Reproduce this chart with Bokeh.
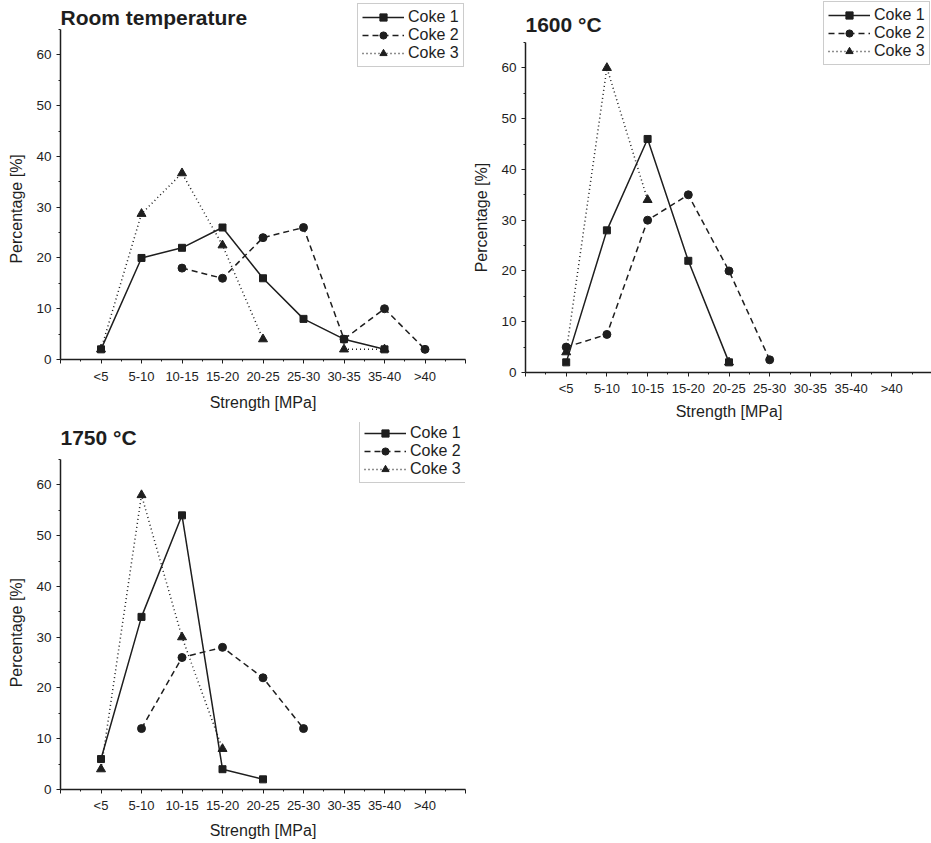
import math
from bokeh.plotting import figure
from bokeh.models import (Range1d, FixedTicker, Legend, LegendItem, Label)
from bokeh.layouts import column, row
from bokeh.embed import file_html
from bokeh.resources import INLINE

NaN = float("nan")

categories = ["<5", "5-10", "10-15", "15-20", "20-25", "25-30", "30-35", "35-40", ">40"]
series_names = ["Coke 1", "Coke 2", "Coke 3"]

# Room temperature
rt_coke1 = [2, 20, 22, 26, 16, 8, 4, 2, NaN]
rt_coke2 = [NaN, NaN, 18, 16, 24, 26, 4, 10, 2]
rt_coke3 = [2, 28.7, 36.7, 22.5, 4, NaN, 2, 2, NaN]

# 1600 °C
t1600_coke1 = [2, 28, 46, 22, 2, NaN, NaN, NaN, NaN]
t1600_coke2 = [5, 7.5, 30, 35, 20, 2.5, NaN, NaN, NaN]
t1600_coke3 = [4, 60, 34, NaN, 2, NaN, NaN, NaN, NaN]

# 1750 °C
t1750_coke1 = [6, 34, 54, 4, 2, NaN, NaN, NaN, NaN]
t1750_coke2 = [NaN, 12, 26, 28, 22, 12, NaN, NaN, NaN]
t1750_coke3 = [4, 58, 30, 8, NaN, NaN, NaN, NaN, NaN]

y_ticks = [0, 10, 20, 30, 40, 50, 60]
y_axis_max = 65
x_label = "Strength [MPa]"
y_label = "Percentage [%]"

FONT = "Liberation Sans"
INK = "#1e1e1e"
STYLES = [("solid", "square", 7), ("6 4", "circle", 8), ("1 3", "triangle", 9)]
PX_PER_UNIT = 330 / 65.0


def make_panel(title, series, frame_w, frame_h, borders, tick_stand, label_stand,
               title_y, legend_loc, ylabel_pad):
    left, right, top, bottom = borders
    y_top = frame_h / PX_PER_UNIT
    p = figure(frame_width=frame_w, frame_height=frame_h, output_backend="svg",
               toolbar_location=None,
               x_range=Range1d(0, 10), y_range=Range1d(0, y_top),
               min_border_left=left, min_border_right=right,
               min_border_top=top, min_border_bottom=bottom)
    p.outline_line_color = None
    p.xgrid.visible = False
    p.ygrid.visible = False
    p.background_fill_color = "white"
    p.border_fill_color = "white"

    xs = [i + 1 for i in range(len(categories))]
    items = []
    for name, ys, (dash, marker, size) in zip(series_names, series, STYLES):
        lr = p.line(xs, ys, line_color=INK, line_width=1.5, line_dash=dash)
        pts_x = [x for x, y in zip(xs, ys) if not math.isnan(y)]
        pts_y = [y for y in ys if not math.isnan(y)]
        sr = p.scatter(pts_x, pts_y, marker=marker, size=size,
                       fill_color=INK, line_color=INK)
        items.append(LegendItem(label=name, renderers=[lr, sr]))

    xa = p.xaxis[0]
    xa.ticker = FixedTicker(ticks=list(range(0, 11)),
                            minor_ticks=[i + 0.5 for i in range(10)])
    overrides = {0: "", 10: ""}
    for i, c in enumerate(categories):
        overrides[i + 1] = c
    xa.major_label_overrides = overrides
    xa.axis_label = x_label

    ya = p.yaxis[0]
    ya.ticker = FixedTicker(ticks=y_ticks, minor_ticks=[5, 15, 25, 35, 45, 55, 65])
    ya.bounds = (0, y_axis_max)
    # pad with no-break spaces so the label centres on the drawn 0-65 axis
    ya.axis_label = y_label + "\u00a0" * ylabel_pad

    for ax in (xa, ya):
        ax.axis_line_color = INK
        ax.axis_line_width = 1.5
        ax.major_tick_line_color = INK
        ax.minor_tick_line_color = INK
        ax.major_tick_out = 4
        ax.major_tick_in = 0
        ax.minor_tick_out = 2
        ax.minor_tick_in = 0
        ax.major_label_text_font = FONT
        ax.major_label_text_font_size = "13px"
        ax.major_label_text_color = INK
        ax.axis_label_text_font = FONT
        ax.axis_label_text_font_size = "16px"
        ax.axis_label_text_font_style = "normal"
        ax.axis_label_text_color = INK
        ax.major_label_standoff = tick_stand
        ax.axis_label_standoff = label_stand
    ya.major_label_text_font_size = "13.5px"
    ya.major_label_standoff = 5
    ya.axis_label_standoff = 8

    p.add_layout(Label(x=0, y=title_y, text=title,
                       text_font=FONT, text_font_size="21px",
                       text_font_style="bold", text_color=INK,
                       text_baseline="alphabetic"))

    legend = Legend(items=items, location=legend_loc,
                    label_text_font=FONT, label_text_font_size="16px",
                    label_text_color=INK,
                    glyph_width=42, glyph_height=18, label_height=18,
                    label_standoff=4, spacing=0, padding=4, margin=0,
                    border_line_color="#999999", border_line_width=1,
                    background_fill_color="white", background_fill_alpha=1)
    p.add_layout(legend, "center")
    return p


p1 = make_panel("Room temperature", [rt_coke1, rt_coke2, rt_coke3],
                405, 359, (60, 5, 0, 61), 5, 7, 67.4, (297, 292), 13)
p2 = make_panel("1600 \u00b0C", [t1600_coke1, t1600_coke2, t1600_coke3],
                407, 372, (52, 2, 0, 50), 4, 4, 68.6, (298, 307), 14)
p3 = make_panel("1750 \u00b0C", [t1750_coke1, t1750_coke2, t1750_coke3],
                405, 367, (60, 5, 0, 54), 4, 6, 69.4, (299, 306), 12)

layout = column(row(p1, p2), p3)
open("out.html", "w").write(file_html(layout, INLINE))
